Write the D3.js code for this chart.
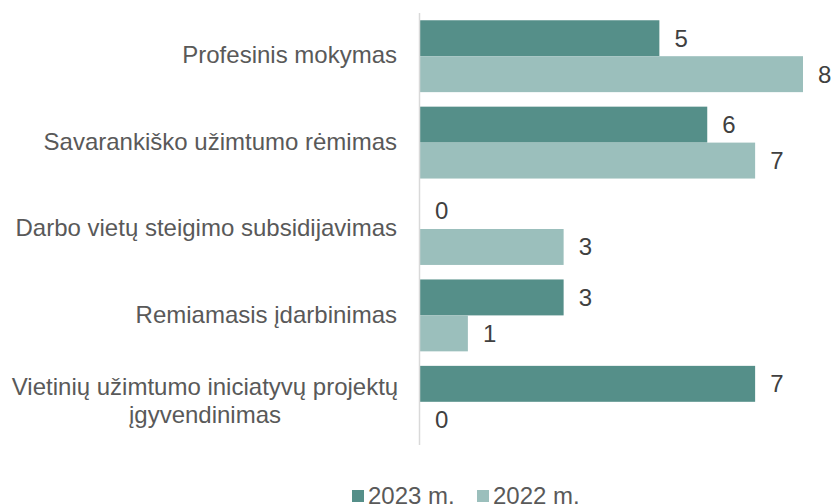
<!DOCTYPE html>
<html>
<head>
<meta charset="utf-8">
<script src="https://cdn.jsdelivr.net/npm/d3@7"></script>
<style>
	body { margin: 0; background: #fff; }
	svg { display: block; font-family: "Liberation Sans", Arial, sans-serif; }
</style>
</head>
<body>
<svg width="833" height="504"></svg>
<script>
var categories = [
	["Profesinis mokymas"],
	["Savarankiško užimtumo rėmimas"],
	["Darbo vietų steigimo subsidijavimas"],
	["Remiamasis įdarbinimas"],
	["Vietinių užimtumo iniciatyvų projektų", "įgyvendinimas"]
];
var seriesNames = ["2023 m.", "2022 m."];
var values2023 = [5, 6, 0, 3, 7];
var values2022 = [8, 7, 3, 1, 0];
var colors = ["#558f89", "#9bbfbc"];

var svg = d3.select("svg");
var plotLeft = 420, plotTop = 13, plotBottom = 445;
var fontSize = 24;

var y = d3.scaleBand().domain(d3.range(categories.length)).range([plotTop, plotBottom]).paddingInner(0.168).paddingOuter(0.084);
var inner = d3.scaleBand().domain([0, 1]).range([0, y.bandwidth()]);
var x = d3.scaleLinear().domain([0, 8]).range([plotLeft, 803]);

var series = [values2023, values2022];

// bars + value labels
series.forEach(function(vals, s) {
	var g = svg.append("g");
	g.selectAll("rect").data(vals).enter().append("rect")
		.attr("x", x(0))
		.attr("y", function(d, i) { return y(i) + inner(s); })
		.attr("width", function(d) { return x(d) - x(0); })
		.attr("height", inner.bandwidth())
		.attr("fill", colors[s]);
	g.selectAll("text").data(vals).enter().append("text")
		.attr("x", function(d) { return x(d) + 15; })
		.attr("y", function(d, i) { return y(i) + inner(s) + inner.bandwidth() / 2; })
		.attr("dy", "0.35em")
		.attr("font-size", fontSize)
		.attr("fill", "#404040")
		.text(function(d) { return d; });
});

// axis line
svg.append("line")
	.attr("x1", plotLeft - 0.5).attr("x2", plotLeft - 0.5)
	.attr("y1", plotTop).attr("y2", plotBottom)
	.attr("stroke", "#d9d9d9").attr("stroke-width", 1.5);

// category labels
svg.append("g").selectAll("text").data(categories).enter().append("text")
	.attr("font-size", fontSize)
	.attr("fill", "#595959")
	.attr("transform", function(d, i) { return "translate(397," + (y(i) + y.bandwidth() / 2) + ")"; })
	.each(function(lines) {
		var t = d3.select(this);
		lines.forEach(function(line, k) {
			t.append("tspan")
				.attr("x", lines.length > 1 ? -192 : 0)
				.attr("y", (k - (lines.length - 1) / 2) * 28)
				.attr("dy", "0.3em")
				.attr("text-anchor", lines.length > 1 ? "middle" : "end")
				.text(line);
		});
	});

// legend
var legend = svg.append("g").attr("transform", "translate(352,490)");
var lx = [0, 125];
seriesNames.forEach(function(name, s) {
	legend.append("rect").attr("x", lx[s]).attr("y", 0).attr("width", 12).attr("height", 12).attr("fill", colors[s]);
	legend.append("text").attr("x", lx[s] + 16).attr("y", 14)
		.attr("font-size", fontSize).attr("fill", "#595959").text(name);
});
</script>
</body>
</html>
